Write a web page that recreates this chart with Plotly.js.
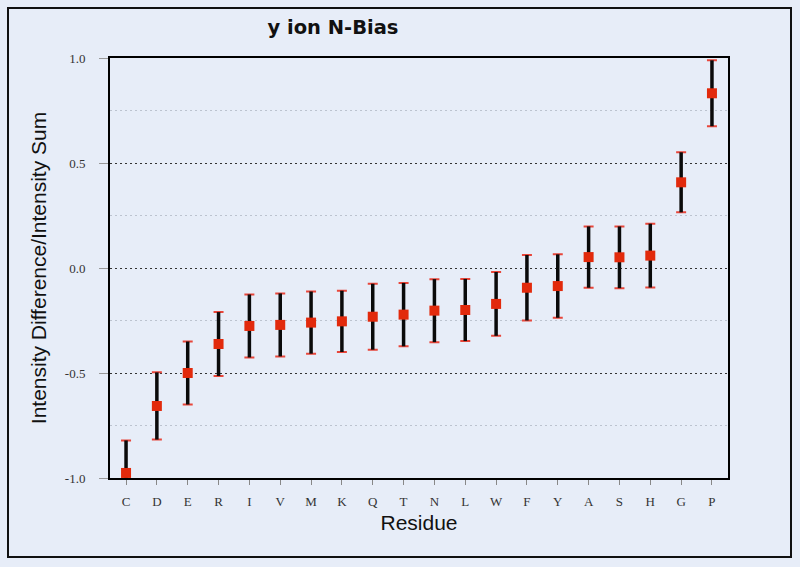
<!DOCTYPE html>
<html>
<head>
<meta charset="utf-8">
<script src="https://cdn.plot.ly/plotly-3.0.1.min.js"></script>
<style>
  html, body { margin: 0; padding: 0; background: #e7edf8; }
  #chart { width: 800px; height: 567px; }
</style>
</head>
<body>
<div id="chart"></div>
<script>
// Residues (x categories)
const residues = ["C","D","E","R","I","V","M","K","Q","T","N","L","W","F","Y","A","S","H","G","P"];
// Mean bias values
const meanBias = [-0.976,-0.657,-0.500,-0.362,-0.276,-0.271,-0.260,-0.254,-0.232,-0.222,-0.203,-0.200,-0.171,-0.094,-0.086,0.052,0.051,0.059,0.408,0.832];
// Error (half-range) of each bar
const errBias = [0.155,0.160,0.150,0.152,0.150,0.150,0.148,0.146,0.157,0.151,0.150,0.148,0.152,0.156,0.151,0.146,0.147,0.152,0.143,0.157];
// Y tick values and labels
const yTickVals = [-1, -0.5, 0, 0.5, 1];
const yTickText = ["-1.0", "-0.5", "0.0", "0.5", "1.0"];

const bg = "#e7edf8";

const capTrace = {
  x: residues, y: meanBias, type: "scatter", mode: "markers",
  marker: { size: 1, opacity: 0 },
  error_y: { type: "data", array: errBias, visible: true, color: "#e8463a", thickness: 2, width: 5 },
  hoverinfo: "skip", showlegend: false
};
const stemTrace = {
  x: residues, y: meanBias, type: "scatter", mode: "markers",
  marker: { size: 1, opacity: 0 },
  error_y: { type: "data", array: errBias, visible: true, color: "#0a0a0a", thickness: 3.5, width: 0 },
  hoverinfo: "skip", showlegend: false
};
const pointTrace = {
  x: residues, y: meanBias, type: "scatter", mode: "markers",
  marker: { symbol: "square", size: 10, color: "#e22a0c" },
  cliponaxis: false, showlegend: false
};

const layout = {
  width: 800, height: 567,
  paper_bgcolor: bg, plot_bgcolor: bg,
  margin: { l: 110, r: 72, t: 58, b: 89 },
  showlegend: false,
  title: {
    text: "y ion N-Bias",
    font: { family: "DejaVu Sans", size: 19.5, color: "#111", weight: "bold" },
    x: 333 / 800, xref: "container", xanchor: "center",
    y: 1 - 27 / 567, yref: "container", yanchor: "middle"
  },
  xaxis: {
    type: "category",
    range: [-0.52, 19.52],
    showline: true, mirror: true, linecolor: "#000", linewidth: 2,
    showgrid: false, zeroline: false,
    ticks: "outside", ticklen: 5, tickcolor: "#888", tickwidth: 1,
    ticklabelstandoff: 5,
    tickfont: { family: "Liberation Serif", size: 13, color: "#333" },
    title: { text: "Residue", font: { family: "Liberation Sans", size: 21, color: "#111" }, standoff: 8 }
  },
  yaxis: {
    range: [-1, 1],
    tickvals: yTickVals, ticktext: yTickText,
    showline: true, mirror: true, linecolor: "#000", linewidth: 2,
    showgrid: true, gridcolor: "#333", griddash: "1.5px,3.5px", gridwidth: 1,
    zeroline: false,
    ticks: "outside", ticklen: 9, tickcolor: "#999", tickwidth: 1,
    ticklabelstandoff: 11,
    tickfont: { family: "Liberation Serif", size: 13, color: "#333" },
    minor: { dtick: 0.25, tick0: 0, showgrid: true, gridcolor: "#bcc3cf", griddash: "1.5px,3.5px", gridwidth: 1, ticks: "" },
    title: { text: "Intensity Difference/Intensity Sum", font: { family: "Liberation Sans", size: 21, color: "#111" }, standoff: 12 }
  },
  shapes: [{
    type: "rect", xref: "paper", yref: "paper",
    x0: (8 - 110) / 618, x1: (791 - 110) / 618,
    y0: (478 - 557) / 420, y1: (478 - 8) / 420,
    line: { color: "#111", width: 2 }, fillcolor: "rgba(0,0,0,0)", layer: "below"
  }]
};

Plotly.newPlot("chart", [capTrace, stemTrace, pointTrace], layout, { displayModeBar: false, staticPlot: true });
</script>
</body>
</html>
